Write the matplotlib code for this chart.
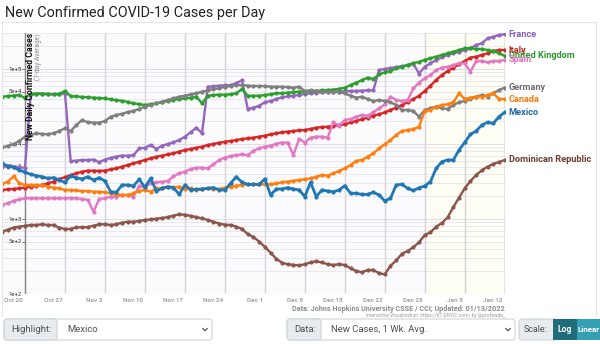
import numpy as np
import matplotlib.pyplot as plt
from matplotlib.patches import Rectangle, FancyBboxPatch

plt.rcParams['font.family'] = ['Roboto', 'DejaVu Sans']

# day offsets from Oct 20, 2021 (series start on Oct 16)
days = np.arange(-4, 85)
week_days = np.arange(0, 85, 7)
week_labels = ["Oct 20", "Oct 27", "Nov 3", "Nov 10", "Nov 17", "Nov 24", "Dec 1",
               "Dec 8", "Dec 15", "Dec 22", "Dec 29", "Jan 5", "Jan 12"]

france = [5000, 5000, 4900, 4900,
          4800, 46000, 46500, 46500, 46000, 46000, 46500, 47000, 5900, 6000, 6100, 6100, 6200,
          5700, 6200, 6500, 6800, 7000, 6980, 7100, 8750, 8900, 9700, 8600, 9500, 10000, 10500,
          11300, 12500, 14300, 16500, 13900, 58000, 58500, 60000, 60500, 61000, 64500, 71000,
          29300, 30500, 32400, 36000, 37500, 39800, 42000, 43000, 44000, 45000, 46500, 47500,
          48500, 49000,
          49500, 50000, 50000, 50500, 51000, 51000, 51500, 52000, 52000,
          97000, 100000, 103000, 106000, 109000, 112000, 117000, 87000, 107000,
          119000, 132000, 143000, 154000, 162000, 170000, 179000, 189000, 209000, 220000,
          256000, 270000, 284000, 290000]

italy = [2450, 2480, 2520, 2570,
         2620, 2700, 2780, 2840, 2990, 3150, 3420, 3600, 3860, 4060, 4280, 4410, 4410, 4380,
         4410, 4590, 4740, 4990, 5250,
         5520, 5810, 6120, 6440, 6780, 6990, 7280, 7510, 7910, 8320, 8570, 8930, 9210, 9700,
         10000, 10400, 10700,
         10970, 11300, 11660, 11900, 12140, 12530, 12900, 13460, 13880, 14320, 14600, 14900,
         15200, 15370, 15850, 16500,
         16800, 17000, 17400, 17900, 18300, 19400, 20300, 21500, 22400, 23900, 24900, 26400,
         28400, 30500, 33100, 36000, 39800, 44000, 50900, 60000, 71300, 83200, 94000, 104000,
         115000, 128000, 142000, 146000, 154000, 162000, 174000, 179000, 179000]

uk = [42700, 43500, 44300, 45000,
      41000, 46500, 47000, 47000, 46500, 46000, 46500, 51000, 43500, 43000, 42500, 42000,
      41500, 41000, 40500, 39500, 38500, 37500, 36500,
      34900, 34000, 33100, 34000, 34900, 36000, 37400, 38600, 39800, 40600, 41500, 42700,
      34900, 44000, 45000, 45500, 45500,
      46000, 47500, 54000, 44000, 44000, 44000, 45000, 46000, 47500, 47500, 48500, 49000,
      50000, 50000, 51000, 51000, 52000,
      52500, 53000, 54500, 56300, 61000, 66000, 71000, 76600, 73600, 85000, 90000, 94000,
      102000, 107000, 113000,
      120000, 124000, 133000, 139000, 146000, 154000, 162000, 170000, 179000, 189000,
      189000, 185000, 185000, 179000, 174000, 162000, 150000]

spain = [1550, 1620, 1750, 1830,
         1890, 1890, 1890, 1890, 1890, 1890, 1890, 1890, 1900, 1890, 1850, 1800, 1250, 1850,
         1890, 1990, 1990, 2090, 2090,
         1990, 2780, 2620, 2990, 3080, 3150, 3210, 3700, 4060, 4280, 4640, 4830, 4830, 4740,
         5360, 6120, 6570,
         6900, 7100, 7280, 7100, 8110, 8750, 9210, 9480, 10140, 10450, 10450, 7100, 11660,
         10450, 12140, 12530, 12530,
         12140, 19450, 17540, 20890, 21540, 23130, 24360, 23860, 26450, 29900, 33800, 42750,
         38600, 37400, 38600, 55000, 66000, 75200,
         83200, 97000, 104200, 107000, 112900, 119000, 119000, 92000, 127900, 127900, 123000,
         127900, 127900, 132000]

germany = [9000, 9400, 10000, 11000,
           12500, 13200, 13900, 13600, 13500, 13900, 14900, 16200, 14900, 17900, 20900, 19450,
           19250, 19250, 20260, 23100, 24400, 25300, 26700,
           27550, 29300, 31500, 33100, 34850, 36650, 38600, 40640, 42750, 44050, 45900, 47400,
           49900, 52000, 54100, 55200, 58100,
           59300, 61200, 61200, 60000, 59300, 59300, 59300, 58100, 58100, 58100, 57500, 56300,
           58100, 50900, 52000, 50900, 49900,
           49900, 49900, 49000, 47400, 44050, 41500, 42750, 39800, 37400, 38600, 37400, 35970,
           33100, 28400, 28400, 27550, 23100, 28400,
           29900, 31500, 29900, 29300, 33100, 36000, 37400, 39800, 42750, 45000, 42750, 47400,
           52500, 56300]

canada = [2950, 3150, 3700, 3000,
          2840, 2840, 2840, 2840, 2700, 2620, 2560, 2440, 2440, 2400, 2360, 2360, 2310, 2310,
          2270, 2200, 2150, 2090, 2090,
          2200, 2360, 2440, 2310, 2560, 2560, 2640, 2640, 2700, 2510, 2560, 2440, 2480, 2560,
          2510, 2510, 2620,
          2700, 2780, 2840, 2900, 2900, 2900, 2900, 2900, 2990, 3080, 3150, 3240, 3310, 3380,
          3480, 3660, 3860,
          3780, 4060, 4370, 4740, 5250, 5930, 6120, 6780, 7510, 8750, 9900, 11300, 13180,
          14900, 15370, 15700, 17020, 27550,
          28400, 31500, 33100, 33800, 36000, 47400, 39800, 41500, 42750, 42750, 45000, 47400,
          39800, 39800]

mexico = [5500, 5100, 4900, 4500,
          4200, 3940, 3780, 3660, 3480, 3560, 3310, 3080, 3780, 3560, 3420, 3660, 3310, 3560,
          3210, 2310, 2270, 2840, 2840,
          2760, 3380, 2640, 3480, 2360, 2560, 2700, 2620, 2130, 2840, 2440, 2490, 2510, 2560,
          2620, 2440, 2440,
          2990, 3660, 3080, 2900, 2900, 2900, 3420, 2090, 2510, 2510, 2620, 2510, 2440, 1990,
          3080, 1990, 2440,
          2360, 2310, 2440, 2780, 2200, 2200, 2130, 2130, 2270, 2090, 1740, 1890, 2840, 2900,
          2560, 2400, 2600, 2760,
          3150, 4740, 5810, 6120, 6120, 8320, 10500, 13460, 14900, 17920, 19450, 18900, 23130,
          26450]

dominican = [680, 720, 770, 790,
             810, 832, 832, 850, 832, 832, 766, 736, 736, 774, 774, 780, 815, 850, 850, 832,
             850, 893, 920,
             920, 940, 970, 985, 1010, 1030, 1060, 1110, 1150, 1140, 1100, 1060, 1020, 970, 920,
             870, 840,
             832, 790, 736, 630, 575, 500, 425, 355, 295, 262, 249, 245, 240, 249, 264, 272, 264,
             249, 244, 249, 244, 220, 203, 195, 209, 209, 189, 183, 238, 280, 345, 375, 420,
             490, 610,
             665, 790, 885, 1050, 1440, 1930, 2560, 3210, 3860, 4460, 4990, 5420, 5750, 6120]

countries = ["France", "Italy", "United Kingdom", "Spain", "Germany", "Canada",
             "Dominican Republic", "Mexico"]
values = [france, italy, uk, spain, germany, canada, dominican, mexico]
colors = ["#9467bd", "#d62728", "#2ca02c", "#e377c2", "#7f7f7f", "#ff7f0e", "#8c564b", "#1f77b4"]
label_colors = ["#8a5cc2", "#c8201f", "#2a962a", "#dc6fbd", "#6e6e6e", "#f57a0c", "#6b3a2e", "#1f66a6"]

ytick_vals = [1e2, 5e2, 1e3, 5e3, 1e4, 5e4, 1e5]
ytick_labels = ["1e+2", "5e+2", "1e+3", "5e+3", "1e+4", "5e+4", "1e+5"]

W, H = 600, 344
fig = plt.figure(figsize=(W / 100, H / 100), dpi=100)
fig.patch.set_facecolor("white")

ax = fig.add_axes([3 / W, 1 - 294 / H, 502 / W, 261 / H])
ax.set_yscale("log")
ax.set_xlim(-3.85, 84.05)
ax.set_ylim(100, 3.02e5)
ax.set_facecolor("#fbfbfd")
for s in ax.spines.values():
    s.set_visible(False)
ax.set_xticks([])
ax.set_yticks([])
ax.minorticks_off()

# shaded recent period
ax.axvspan(70, 84, color="#fefef5", zorder=0)

# log grid
for exp in range(2, 6):
    for m in range(1, 10):
        v = m * 10 ** exp
        if v <= 3.02e5:
            ax.axhline(v, color="#e8e8ee" if m > 1 else "#dedee4", lw=0.7, zorder=1)

for d in week_days:
    ax.axvline(d, color="#d4d4d8", lw=1.0, zorder=1)
ax.axvline(0, color="#8c8c8c", lw=1.0, zorder=1)
ax.axvline(84, color="#a8a8a8", lw=1.0, zorder=1)

# y ticks inside the plot, left of the first day
ax.hlines(ytick_vals, -0.5, 0, color="#777777", lw=0.7, zorder=2)
for v, lbl in zip(ytick_vals, ytick_labels):
    ax.text(-0.6, v, lbl, ha="right", va="center", fontsize=4.3, color="#333333", zorder=2)

# x tick labels, right-aligned to their grid lines
for d, lbl in zip(week_days, week_labels):
    ax.text(d - 0.35, -0.023, lbl, transform=ax.get_xaxis_transform(), ha="right",
            va="center", fontsize=4.6, color="#a3a3a3", fontweight="semibold", clip_on=False)

for name, vals, c, lc in zip(countries, values, colors, label_colors):
    lw = 2.0 if name == "Mexico" else 1.7
    ax.plot(days, vals, color=c, lw=lw, marker="o", markersize=3.0, markeredgewidth=0,
            zorder=4 if name == "Mexico" else 3)
    ax.text(84.7, vals[-1], name, color=lc, fontsize=6.6, fontweight="bold",
            va="center", ha="left", clip_on=False)

# overlay in pixel units for title, axis label, footer and controls
ov = fig.add_axes([0, 0, 1, 1], facecolor="none")
ov.set_xlim(0, W)
ov.set_ylim(H, 0)
ov.axis("off")

# panel outline (top and sides)
ov.plot([2, 2, 596, 596], [316, 22, 22, 316], color="#e6e6e6", lw=0.8)
ov.text(5, 12.5, "New Confirmed COVID-19 Cases per Day", fontsize=10.4, color="#222222",
        va="center", ha="left")

ov.text(30.5, 33, "New Daily Confirmed Cases", rotation=90, ha="center", va="top",
        fontsize=6.2, fontweight="bold", color="#111111")
ov.text(38.5, 33, "(7-day Average)", rotation=90, ha="center", va="top",
        fontsize=4.8, color="#8a8a8a")

ov.text(505, 309, "Data: Johns Hopkins University CSSE / CCI; Updated: 01/13/2022",
        ha="right", va="center", fontsize=5.2, color="#8c8c8c", fontweight="semibold")
ov.text(505, 315.5, "Interactive Visualization: https://91-DIVOC.com/ by @profwade_",
        ha="right", va="center", fontsize=3.5, color="#9a9a9a")


def input_group(x0, x1, split, label, value, chevron_x):
    ov.add_patch(FancyBboxPatch((x0, 319), x1 - x0, 21, boxstyle="round,pad=0,rounding_size=3",
                                facecolor="white", edgecolor="#ced4da", lw=0.8))
    ov.add_patch(FancyBboxPatch((x0, 319), split - x0, 21, boxstyle="round,pad=0,rounding_size=3",
                                facecolor="#e9ecef", edgecolor="#ced4da", lw=0.8))
    ov.text(x0 + 7, 329.5, label, fontsize=6.8, color="#495057", va="center", ha="left")
    ov.text(split + 10, 329.5, value, fontsize=6.8, color="#495057", va="center", ha="left")
    ov.plot([chevron_x - 2.2, chevron_x, chevron_x + 2.2], [328.5, 330.8, 328.5],
            color="#444444", lw=0.8)


input_group(4, 212, 57, "Highlight:", "Mexico", 205)
input_group(287, 515, 321, "Data:", "New Cases, 1 Wk. Avg.", 508)

ov.add_patch(FancyBboxPatch((519, 319), 38, 21, boxstyle="round,pad=0,rounding_size=3",
                            facecolor="#e9ecef", edgecolor="#ced4da", lw=0.8))
ov.text(524, 329.5, "Scale:", fontsize=6.4, color="#495057", va="center", ha="left")
ov.add_patch(Rectangle((553, 319), 24, 21, facecolor="#1f6c7b", edgecolor="none"))
ov.add_patch(Rectangle((577, 319), 23, 21, facecolor="#35a0b4", edgecolor="none"))
ov.text(565, 329.5, "Log", fontsize=6.2, color="white", va="center", ha="center",
        fontweight="semibold")
ov.text(588.5, 329.5, "Linear", fontsize=5.8, color="white", va="center", ha="center",
        fontweight="semibold")

fig.savefig("out.png", dpi=100)
